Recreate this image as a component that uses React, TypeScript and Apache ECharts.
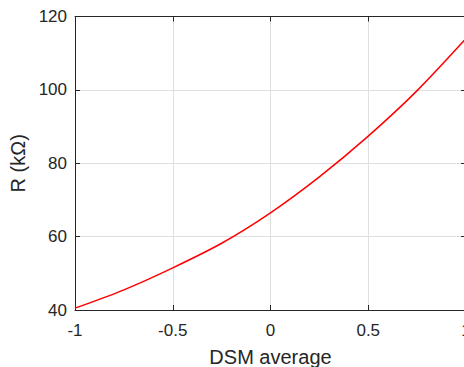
import React, { useEffect, useRef } from "react";
import * as echarts from "echarts";

const xValues = [-1, -0.75, -0.5, -0.25, 0, 0.25, 0.5, 0.75, 1];
const rValues = [40.5, 45.5, 51.5, 58.2, 66.5, 76.3, 87.4, 99.8, 114];
const xTicks = [-1, -0.5, 0, 0.5, 1];
const yTicks = [40, 60, 80, 100, 120];

export default function App() {
  const ref = useRef<HTMLDivElement>(null);
  useEffect(() => {
    document.body.style.margin = "0";
    if (!ref.current) return;
    const chart = echarts.init(ref.current, null, { renderer: "svg" });
    const axisColor = "#262626";
    const font = "'Liberation Sans', Arial, Helvetica, sans-serif";
    chart.setOption({
      animation: false,
      backgroundColor: "#ffffff",
      grid: {
        left: 75,
        width: 391,
        top: 16.5,
        height: 293.5,
        containLabel: false,
        outerBoundsMode: "none",
      },
      xAxis: [
        {
          type: "value",
          min: xTicks[0],
          max: xTicks[xTicks.length - 1],
          interval: 0.5,
          position: "bottom",
          name: "DSM average",
          nameLocation: "middle",
          nameGap: 37,
          nameTextStyle: { color: axisColor, fontSize: 20, fontFamily: font },
          axisLine: { show: true, onZero: false, lineStyle: { color: axisColor, width: 1 } },
          axisTick: { show: true, inside: true, length: 5, lineStyle: { color: axisColor } },
          axisLabel: { color: axisColor, fontSize: 17, fontFamily: font, margin: 12 },
          splitLine: { show: true, lineStyle: { color: "#dfdfdf", width: 1 } },
        },
        {
          type: "value",
          min: xTicks[0],
          max: xTicks[xTicks.length - 1],
          interval: 0.5,
          position: "top",
          axisLine: { show: true, onZero: false, lineStyle: { color: axisColor, width: 1 } },
          axisTick: { show: true, inside: true, length: 5, lineStyle: { color: axisColor } },
          axisLabel: { show: false },
          splitLine: { show: false },
        },
      ],
      yAxis: [
        {
          type: "value",
          min: yTicks[0],
          max: yTicks[yTicks.length - 1],
          interval: 20,
          position: "left",
          name: "R (kΩ)",
          nameLocation: "middle",
          nameGap: 46,
          nameTextStyle: { color: axisColor, fontSize: 20, fontFamily: font },
          axisLine: { show: true, onZero: false, lineStyle: { color: axisColor, width: 1 } },
          axisTick: { show: true, inside: true, length: 5, lineStyle: { color: axisColor } },
          axisLabel: { color: axisColor, fontSize: 17, fontFamily: font, margin: 8 },
          splitLine: { show: true, lineStyle: { color: "#dfdfdf", width: 1 } },
        },
        {
          type: "value",
          min: yTicks[0],
          max: yTicks[yTicks.length - 1],
          interval: 20,
          position: "right",
          axisLine: { show: true, onZero: false, lineStyle: { color: axisColor, width: 1 } },
          axisTick: { show: true, inside: true, length: 5, lineStyle: { color: axisColor } },
          axisLabel: { show: false },
          splitLine: { show: false },
        },
      ],
      series: [
        {
          type: "line",
          data: xValues.map((x, i) => [x, rValues[i]]),
          smooth: 0.3,
          showSymbol: false,
          lineStyle: { color: "#ff0000", width: 1.5 },
          clip: false,
        },
      ],
    });
    return () => chart.dispose();
  }, []);
  return <div ref={ref} style={{ width: 464, height: 367 }} />;
}
